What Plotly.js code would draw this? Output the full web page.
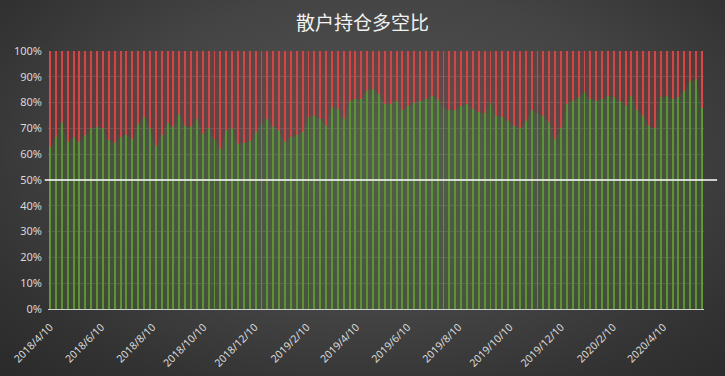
<!DOCTYPE html>
<html>
<head>
<meta charset="utf-8">
<script src="https://cdn.plot.ly/plotly-3.0.1.min.js"></script>
<style>
html,body{margin:0;padding:0;}
body{width:725px;height:376px;overflow:hidden;
background:radial-gradient(ellipse 75% 85% at 52% 40%, #545454 0%, #444444 50%, #323232 80%, #2a2a2a 100%);}
#chart{width:725px;height:376px;}
</style>
</head>
<body>
<div id="chart"></div>
<script>
const dates = [
"2018-04-10","2018-04-17","2018-04-24","2018-05-01","2018-05-08","2018-05-15","2018-05-22","2018-05-29",
"2018-06-05","2018-06-12","2018-06-19","2018-06-26","2018-07-03","2018-07-10","2018-07-17","2018-07-24",
"2018-07-31","2018-08-07","2018-08-14","2018-08-21","2018-08-28","2018-09-04","2018-09-11","2018-09-18",
"2018-09-25","2018-10-02","2018-10-09","2018-10-16","2018-10-23","2018-10-30","2018-11-06","2018-11-13",
"2018-11-20","2018-11-27","2018-12-04","2018-12-11","2018-12-18","2018-12-25",
"2019-01-01","2019-01-08","2019-01-15","2019-01-22","2019-01-29","2019-02-05","2019-02-12","2019-02-19",
"2019-02-26","2019-03-05","2019-03-12","2019-03-19","2019-03-26","2019-04-02","2019-04-09","2019-04-16",
"2019-04-23","2019-04-30","2019-05-07","2019-05-14","2019-05-21","2019-05-28","2019-06-04","2019-06-11",
"2019-06-18","2019-06-25","2019-07-02","2019-07-09","2019-07-16","2019-07-23","2019-07-30","2019-08-06",
"2019-08-13","2019-08-20","2019-08-27","2019-09-03","2019-09-10","2019-09-17","2019-09-24","2019-10-01",
"2019-10-08","2019-10-15","2019-10-22","2019-10-29","2019-11-05","2019-11-12","2019-11-19","2019-11-26",
"2019-12-03","2019-12-10","2019-12-17","2019-12-24","2019-12-31",
"2020-01-07","2020-01-14","2020-01-21","2020-01-28","2020-02-04","2020-02-11","2020-02-18","2020-02-25",
"2020-03-03","2020-03-10","2020-03-17","2020-03-24","2020-03-31","2020-04-07","2020-04-14","2020-04-21",
"2020-04-28","2020-05-05","2020-05-12","2020-05-19","2020-05-26"
];

// 多头占比 (%)
const longPct = [
62.8,66.7,72.5,64.7,66.5,64.7,67.3,70,70.5,70,65.4,64.5,66.7,67.6,66,71.8,
74.4,70,63.2,67.3,72.2,70.5,75.6,71,70.5,73.7,68,70,66,62.2,69.2,70,
64,64.5,65,68.6,71.8,73.7,70.5,69.2,64.7,66.7,67.3,68.6,74.4,75,73.7,71,
78.2,77.6,73.7,80.8,81.4,81.4,84.6,85.3,83.3,79.5,79.5,80.8,77,78.8,80,80.8,
81.4,82.7,81.4,78.2,77,77,78.8,79.5,77.6,76.3,76,80,75,74.4,73,71,
70,73,77,75.6,75,72.4,66,70,79.5,80.8,82,84,81.4,80.8,81.4,82.7,
82,80.8,78.8,82.7,77,75,71,70,82,82.7,81.4,82,84.6,88.5,89,78
];

// 空头占比 (%)
const shortPct = longPct.map(v => Math.round((100 - v) * 10) / 10);
const fullPct = longPct.map(() => 100);

const tickVals = ["2018-04-10","2018-06-10","2018-08-10","2018-10-10","2018-12-10","2019-02-10",
"2019-04-10","2019-06-10","2019-08-10","2019-10-10","2019-12-10","2020-02-10","2020-04-10"];
const tickText = ["2018/4/10","2018/6/10","2018/8/10","2018/10/10","2018/12/10","2019/2/10",
"2019/4/10","2019/6/10","2019/8/10","2019/10/10","2019/12/10","2020/2/10","2020/4/10"];

const DAY = 86400000;
const barW = 2.3 * DAY;

const traces = [
  {type:'scatter', x:dates, y:longPct, mode:'lines', line:{width:0, color:'rgba(0,0,0,0)'},
   fill:'tozeroy', fillcolor:'rgba(85,125,55,0.28)', hoverinfo:'skip', showlegend:false},
  {type:'scatter', x:dates, y:fullPct, mode:'lines', line:{width:0, color:'rgba(0,0,0,0)'},
   fill:'tonexty', fillcolor:'rgba(170,60,60,0.22)', hoverinfo:'skip', showlegend:false},
  {type:'bar', x:dates, y:longPct, width:barW, marker:{color:'#639a3a', line:{width:0}}, name:'多', showlegend:false},
  {type:'bar', x:dates, y:shortPct, width:barW, marker:{color:'#dc4c4a', line:{width:0}}, name:'空', showlegend:false}
];

const d0 = new Date(dates[0] + "T00:00:00Z").getTime();
const d1 = new Date(dates[dates.length-1] + "T00:00:00Z").getTime();

const layout = {
  width:725, height:376,
  paper_bgcolor:'rgba(0,0,0,0)', plot_bgcolor:'rgba(0,0,0,0)',
  margin:{l:48, r:21, t:51, b:67},
  barmode:'stack',
  title:{text:'散户持仓多空比', x:0.5, xanchor:'center', y:0.937, yanchor:'middle',
         font:{family:'Noto Sans CJK SC, sans-serif', size:19, color:'#f2f2f2'}},
  font:{family:'Noto Sans, Open Sans, sans-serif', color:'#d9d9d9', size:11},
  xaxis:{type:'date', range:[d0 - 2.5*DAY, d1 + 2.5*DAY], tickmode:'array', tickvals:tickVals, ticktext:tickText,
         tickangle:-45, showgrid:false, zeroline:false, showline:true, linecolor:'#d0d0d0', linewidth:1,
         ticks:'', ticklabelstandoff:7, tickfont:{color:'#d9d9d9', size:10.5}},
  yaxis:{range:[0,100], dtick:10, ticksuffix:'%', showgrid:true, gridcolor:'rgba(255,255,255,0.13)',
         gridwidth:1, zeroline:false, showline:false, ticks:'', ticklabelstandoff:5,
         tickfont:{color:'#d9d9d9', size:11}},
  shapes:[{type:'line', xref:'paper', yref:'y', x0:-0.005, x1:1.02, y0:50, y1:50,
           line:{color:'#ffffff', width:1.5}, layer:'above'}]
};

Plotly.newPlot('chart', traces, layout, {displayModeBar:false, staticPlot:true});
</script>
</body>
</html>
